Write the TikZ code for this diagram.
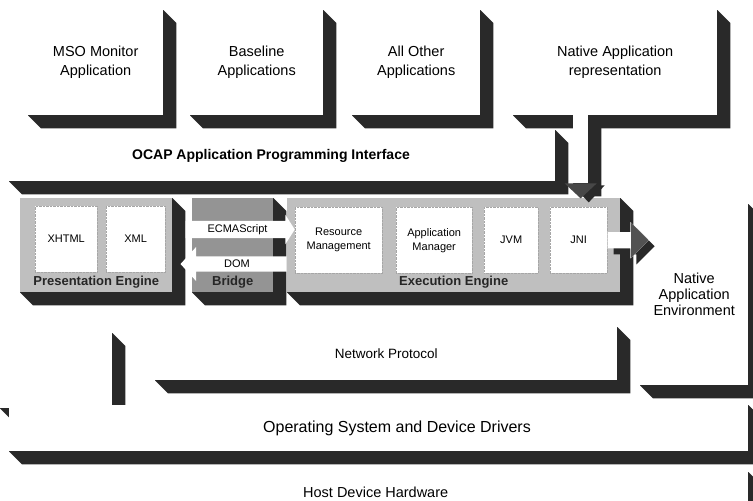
\documentclass[tikz,border=0pt]{standalone}
\usepackage{fontspec}
\setmainfont{Liberation Sans}
\usetikzlibrary{calc,shapes.arrows,shadows}
\pgfdeclarelayer{background}
\pgfsetlayers{background,main}

\definecolor{shadowink}{gray}{0.16}
\definecolor{enginegray}{gray}{0.75}
\definecolor{bridgegray}{gray}{0.58}

\newcommand\apptext{\fontsize{14.5}{19}\selectfont}
\newcommand\apitext{\bfseries\fontsize{14}{16}\selectfont}
\newcommand\modtext{\fontsize{11}{14}\selectfont}
\newcommand\layertext{\fontsize{14}{17}\selectfont}
\newcommand\enginetext{\bfseries\fontsize{13}{15}\selectfont}

% extruded 3D shadow behind a named box (13pt right and down, bevelled corners)
\newcommand\castshade[1]{%
  \begin{pgfonlayer}{background}
    \fill[shadowink] (#1.north west) -- (#1.north east)
      -- ([shift={(13,13)}]#1.north east) -- ([shift={(13,13)}]#1.south east)
      -- ([shift={(13,13)}]#1.south west) -- (#1.south west) -- cycle;
  \end{pgfonlayer}}

\tikzset{
  face/.style={fill=white, inner sep=0pt, anchor=north west, align=center, font=\apptext},
  engine/.style={fill=enginegray, inner sep=0pt, anchor=north west},
  module/.style={face, draw=black!35, densely dotted, font=\modtext},
  enginelabel/.style={font=\enginetext, text=black!85, inner sep=0pt},
  flow/.style={single arrow, fill=white, font=\modtext, inner xsep=1.5pt},
  caption/.style={inner sep=0pt, font=\layertext},
}

\begin{document}
\begin{tikzpicture}[x=1pt,y=-1pt]
\useasboundingbox (0,0) rectangle (753,501);

% ---- application layer
\node[face, minimum width=135, minimum height=105] (mso) at (28,10) {MSO Monitor\\Application};
\node[face, minimum width=133, minimum height=105] (base) at (190,10) {Baseline\\Applications};
\node[face, minimum width=128, minimum height=105] (other) at (352,10) {All Other\\Applications};
\node[face, minimum width=204, minimum height=105] (native) at (513,10) {Native Application\\representation};
\node[face, minimum width=15, minimum height=68] (nshaft) at (573,115) {};
\castshade{mso}\castshade{base}\castshade{other}\castshade{native}\castshade{nshaft}

% ---- OCAP API
\node[face, minimum width=546, minimum height=51] (api) at (9,130) {};
\castshade{api}
\node[caption, font=\apitext] (apilabel) at (271,156) {OCAP Application Programming Interface};

% ---- engines
\node[engine, minimum width=152, minimum height=94] (pres) at (20,198) {};
\node[engine, fill=bridgegray, minimum width=81, minimum height=94] (bridge) at (192,198) {};
\node[engine, minimum width=333, minimum height=94] (exec) at (287,198) {};
\castshade{pres}\castshade{bridge}\castshade{exec}

\node[enginelabel] (preslabel) at ($(pres.south)+(0,-10)$) {Presentation Engine};
\node[enginelabel] (bridgelabel) at ($(bridge.south)+(0,-10)$) {Bridge};
\node[enginelabel] (execlabel) at ($(exec.south)+(0,-10)$) {Execution Engine};

\node[module, minimum width=62, minimum height=66] (xhtml) at (35,206) {XHTML};
\node[module, minimum width=59, minimum height=66] (xml) at (106,206) {XML};
\node[module, minimum width=87, minimum height=66] (res) at (295,207) {Resource\\Management};
\node[module, minimum width=76, minimum height=66] (appm) at (396,207) {Application\\Manager};
\node[module, minimum width=54, minimum height=66] (jvm) at (484,207) {JVM};
\node[module, minimum width=57, minimum height=66] (jni) at (550,207) {JNI};

% bridge flows
\node[flow, inner ysep=3.3pt, minimum height=109, single arrow head extend=6,
      single arrow tip angle=115] (ecma) at (237.5,229.5) {ECMAScript};
\node[flow, shape border rotate=180, inner ysep=3.5pt, minimum height=106,
      single arrow head extend=9.5, single arrow tip angle=95] (dom) at (237,264) {DOM};

% arrow head of the native representation into the execution engine
\fill[shadowink] ([shift={(-8,2)}]nshaft.south) -- ([shift={(24,2)}]nshaft.south)
  -- ([shift={(8,19)}]nshaft.south) -- cycle;
\fill[black!72] ([shift={(-16,0)}]nshaft.south) -- ([shift={(16,0)}]nshaft.south)
  -- ([shift={(0,15)}]nshaft.south) -- cycle;

% ---- native application environment
\node[face, minimum width=108, minimum height=181, font=\fontsize{14.5}{16}\selectfont] (nae) at (640,204) {Native\\Application\\Environment};
\castshade{nae}

% JNI out to the native environment
\node[single arrow, fill=white, anchor=tail, minimum height=41, inner xsep=0pt, inner ysep=8pt,
      single arrow head extend=10, single arrow tip angle=90,
      drop shadow={shadow xshift=6pt, shadow yshift=-6pt, fill=shadowink, opacity=1},
      path picture={\fill[black!68] ([xshift=-18pt]path picture bounding box.north east)
        rectangle (path picture bounding box.south east);}] (jniout) at (jni.east) {};

% ---- lower layers
\node[face, minimum width=112, minimum height=75] (pillar) at (0,333) {};
\node[face, minimum width=462, minimum height=53, font=\fontsize{13.5}{16}\selectfont] (net) at (155,327) {Network Protocol};
\castshade{pillar}\castshade{net}

\node[face, minimum width=739, minimum height=46] (os) at (9,405) {};
\castshade{os}
\node[caption, font=\fontsize{16}{18}\selectfont] (oslabel) at (397,428) {Operating System and Device Drivers};

\node[face, minimum width=745, minimum height=40, font=\fontsize{14.5}{17}\selectfont] (host) at (3,472) {Host Device Hardware};
\castshade{host}
\end{tikzpicture}
\end{document}
